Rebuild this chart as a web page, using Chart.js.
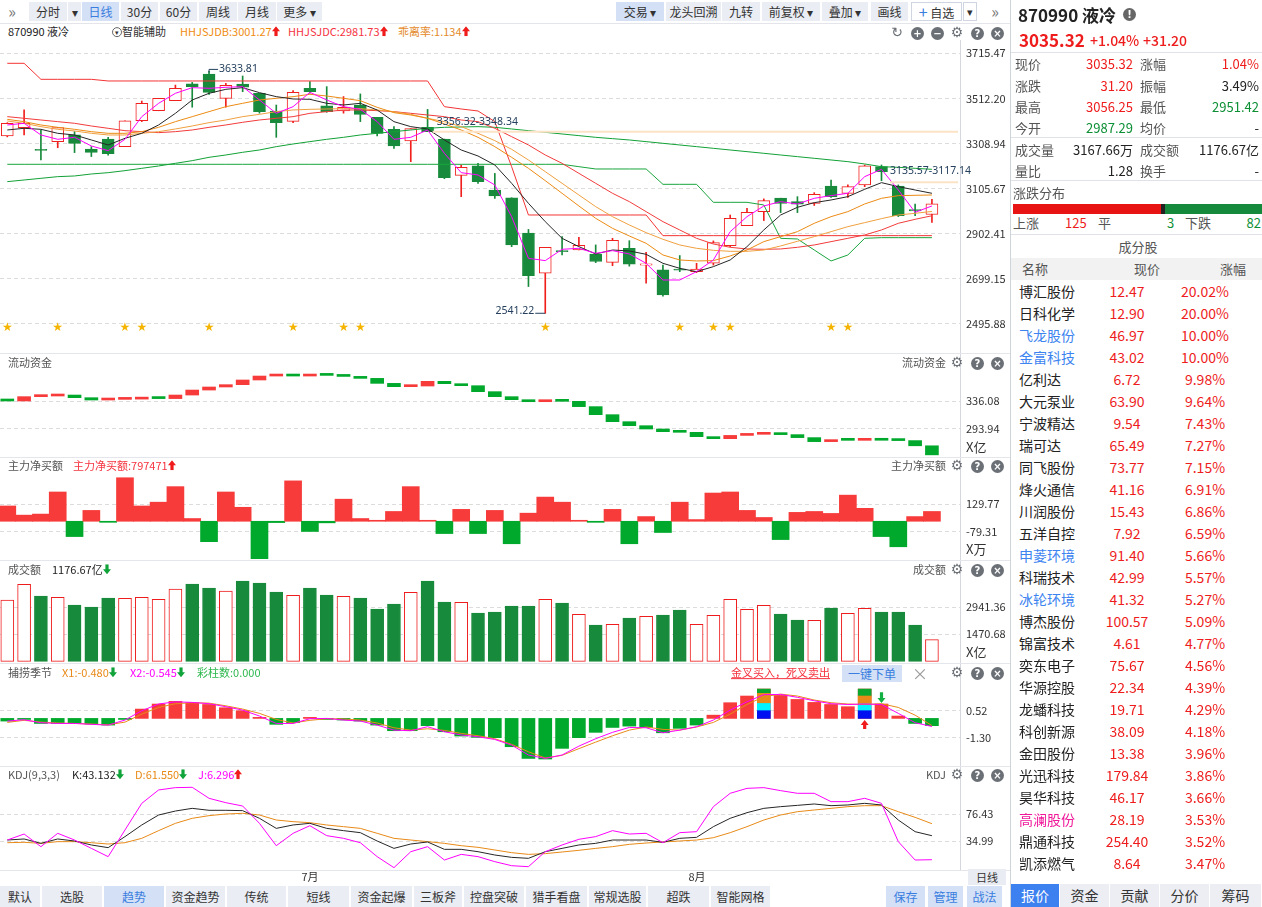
<!DOCTYPE html>
<html>
<head>
<meta charset="utf-8">
<title>870990 液冷</title>
<script src="https://cdn.jsdelivr.net/npm/chart.js@4.4.1/dist/chart.umd.min.js"></script>
<script>
// ---- values (56 daily sessions) ----
const opens  = [3342,3380,3281,3316,3347,3283,3328,3294,3411,3456,3502,3578,3622,3512,3577,3535,3455,3408,3557,3478,3455,3482,3426,3372,3320,3381,3328,3164,3207,3098,3063,2904,2722,2824,2827,2809,2771,2835,2759,2737,2738,2729,2767,2847,2937,3000,3061,3046,3038,3116,3083,3121,3204,3116,3010,2987.29];
const highs  = [3402,3460,3369,3380,3362,3294,3336,3410,3500,3512,3572,3584,3633.81,3580,3613,3535,3482,3547,3588,3565,3520,3532,3426,3384,3375,3462,3328,3211,3219,3173,3063,2920,2839,2888,2884,2850,2880,2869,2817,2759,2802,2767,2868,2985,3015,3058,3061,3068,3086,3143,3121,3211,3211,3121,3034,3056.25];
const lows   = [3338,3347,3234,3289,3267,3249,3255,3294,3407,3456,3502,3472,3530,3472,3542,3445,3336,3402,3535,3449,3445,3407,3342,3286,3226,3362,3149,3068,3128,3060,2842,2662,2541.22,2805,2827,2770,2756,2754,2677,2619,2729,2725,2759,2842,2937,2960,2996,2996,3028,3064,3065,3113,3140,2978,2982,2951.42];
const closes = [3399,3399,3277,3380,3309,3268,3262,3410,3490,3512,3557,3565,3539,3571,3562,3452,3402,3539,3542,3452,3472,3440,3354,3297,3375,3362,3154,3200,3136,3071,2850,2711,2839,2820,2848,2775,2871,2763,2765,2624,2736,2741,2860,2970,2997,3050,3038,3034,3079,3068,3113,3207,3181,2982,3004,3035.32];

// overlay lines on the K chart
const maFast  = [3391.8,3399.3,3346.6,3327.0,3336.0,3296.9,3275.8,3327.0,3429.4,3489.6,3534.8,3560.4,3557.4,3561.9,3564.9,3504.7,3444.4,3474.5,3539.3,3504.7,3474.5,3462.5,3406.8,3327.0,3336.0,3369.2,3263.8,3176.4,3165.9,3120.7,2977.7,2789.5,2779.0,2830.2,2834.7,2812.1,2824.1,2809.1,2766.9,2691.6,2691.6,2729.3,2782.0,2909.9,2977.7,3025.9,3045.5,3034.9,3060.5,3072.6,3083.1,3158.4,3191.5,3098.1,2997.3,3025.9];
const maBlack = [3369.2,3376.7,3372.2,3354.1,3346.6,3324.0,3301.4,3331.5,3354.1,3391.8,3444.4,3504.7,3534.8,3552.8,3560.4,3537.8,3519.7,3509.2,3507.7,3489.6,3482.1,3489.6,3459.5,3406.8,3384.2,3373.7,3324.0,3278.8,3251.7,3211.1,3128.3,3037.9,2955.1,2879.8,2842.2,2809.1,2827.1,2822.6,2807.6,2766.9,2744.3,2729.3,2751.9,2782.0,2842.2,2917.5,2985.2,3019.9,3040.9,3053.0,3068.0,3101.2,3131.3,3113.2,3098.1,3083.1];
const maOrange = [3417.3,3406.8,3391.8,3381.2,3372.2,3361.6,3354.1,3354.1,3361.6,3381.2,3406.8,3429.4,3452.0,3474.5,3489.6,3504.7,3512.2,3519.7,3530.3,3522.7,3512.2,3501.6,3471.5,3447.4,3436.9,3421.9,3396.3,3369.2,3336.0,3293.9,3245.7,3196.0,3140.3,3083.1,3025.9,2970.2,2925.0,2890.4,2857.3,2804.6,2782.0,2777.5,2779.0,2800.1,2827.1,2864.8,2887.4,2909.9,2947.6,2977.7,3000.3,3034.9,3060.5,3072.6,3074.1,3075.6];
const jdb = [3409.8,3399.3,3384.2,3372.2,3364.7,3354.1,3346.6,3346.6,3354.1,3361.6,3373.7,3387.2,3402.3,3414.3,3429.4,3439.9,3452.0,3459.5,3462.5,3464.0,3465.5,3465.5,3459.5,3452.0,3439.9,3421.9,3406.8,3384.2,3354.1,3321.0,3281.9,3233.7,3181.0,3128.3,3075.6,3022.9,2977.7,2940.1,2905.5,2875.4,2849.7,2834.7,2825.6,2821.1,2821.1,2827.1,2845.2,2866.3,2887.4,2909.9,2932.5,2950.6,2968.7,2985.2,2992.8,3001.27];
const jdc = [3429.4,3421.9,3414.3,3406.8,3399.3,3387.2,3376.7,3366.1,3361.6,3357.1,3361.6,3369.2,3381.2,3391.8,3403.8,3414.3,3421.9,3429.4,3444.4,3452.0,3459.5,3459.5,3456.5,3452.0,3444.4,3436.9,3429.4,3414.3,3406.8,3376.7,3339.0,3301.4,3256.2,3218.6,3173.4,3128.3,3083.1,3045.5,3000.3,2955.1,2917.5,2879.8,2854.2,2839.2,2831.7,2830.2,2831.7,2839.2,2849.7,2864.8,2879.8,2894.9,2917.5,2947.6,2965.7,2981.73];
const maLong = [3135.8,3143.3,3150.8,3158.4,3161.4,3170.4,3176.4,3185.5,3196.0,3206.6,3218.6,3230.6,3245.7,3256.2,3268.3,3278.8,3293.9,3305.9,3316.5,3327.0,3336.0,3346.6,3354.1,3361.6,3369.2,3376.7,3381.2,3382.7,3384.2,3381.2,3373.7,3366.1,3358.6,3351.1,3343.6,3336.0,3330.0,3324.0,3316.5,3308.9,3301.4,3293.9,3286.3,3278.8,3271.3,3263.8,3256.2,3248.7,3241.2,3233.7,3226.1,3215.6,3203.5,3200.5,3196.0,3191.5];
const bandUp = [3670.3,3670.3,3598.0,3598.0,3598.0,3598.0,3590.5,3590.5,3590.5,3590.5,3590.5,3590.5,3590.5,3590.5,3590.5,3590.5,3590.5,3590.5,3590.5,3590.5,3590.5,3590.5,3590.5,3590.5,3590.5,3590.5,3474.5,3464.0,3455.0,3406.8,3203.5,2985.2,2985.2,2985.2,2985.2,2985.2,2985.2,2985.2,2985.2,2891.9,2891.9,2891.9,2891.9,2891.9,2891.9,2891.9,2891.9,2891.9,2891.9,2891.9,2891.9,2891.9,2891.9,2891.9,2891.9,2891.9];
const bandLow = [3214.1,3214.1,3214.1,3214.1,3214.1,3214.1,3214.1,3214.1,3214.1,3214.1,3214.1,3214.1,3214.1,3214.1,3214.1,3214.1,3214.1,3214.1,3214.1,3214.1,3214.1,3214.1,3214.1,3214.1,3214.1,3214.1,3214.1,3214.1,3214.1,3214.1,3214.1,3214.1,3214.1,3214.1,3203.5,3193.0,3193.0,3193.0,3193.0,3123.7,3123.7,3123.7,3042.4,3042.4,3042.4,3030.4,2879.8,2876.8,2827.1,2777.5,2804.6,2879.8,2882.8,2882.8,2882.8,2882.8];
const starDays = [0, 3, 7, 8, 12, 17, 20, 21, 32, 40, 42, 43, 49, 50];

// sub panels
const flowStart = 337.0;
const flow = [336.1,342.8,343.8,345.3,341.2,337.6,338.6,339.0,340.2,339.8,345.3,353.0,357.7,361.3,368.5,374.6,376.2,374.6,376.2,375.6,374.0,371.0,363.3,358.2,359.2,366.4,362.8,359.7,350.5,342.8,338.1,335.0,336.1,335.6,327.4,315.0,304.2,298.0,292.9,288.8,287.8,281.1,278.0,283.0,284.7,286.2,284.2,279.6,273.4,276.0,275.4,276.0,275.5,275.0,267.0,253.0];
const netBuy = [117,47,55,224,-117,83,-8,333,117,146,265,21,-156,224,107,-286,-10,309,-78,-12,169,21,5,75,265,5,-94,91,-94,83,-172,62,185,146,5,-8,91,-172,36,-86,146,13,216,224,83,29,-140,68,75,60,200,99,-117,-195,36,75];
const amount = [3341,4194,3559,3486,3068,2959,3450,3431,3486,3377,3940,4212,3994,3831,4376,4267,3776,3595,3994,3613,3540,3450,2850,3123,3758,4376,3232,3214,2633,2687,3014,3014,3377,3177,2560,1979,2015,2360,2451,2524,2796,2015,2505,3377,2832,3050,2578,2251,2233,2905,2614,2887,2687,2687,1979,1176.67];
const colorBars = [-0.18,-0.07,-0.34,-0.34,-0.34,-0.38,-0.45,-0.07,0.63,0.97,1.15,1.06,0.94,0.72,0.52,0.07,-0.40,-0.29,0.07,-0.07,-0.11,-0.18,-0.45,-0.83,-0.83,-0.49,-0.90,-1.19,-1.28,-1.30,-1.91,-2.70,-2.74,-2.02,-1.30,-0.94,-0.61,-0.52,-0.61,-0.97,-0.67,-0.45,0.22,1.06,1.51,1.98,1.55,1.28,1.08,0.94,0.79,1.98,0.97,0.16,-0.34,-0.49];
const x1 = [-0.27,-0.13,-0.25,-0.31,-0.34,-0.38,-0.43,-0.25,0.29,0.74,0.99,1.06,1.03,0.85,0.63,0.34,-0.07,-0.31,-0.13,-0.02,-0.04,-0.11,-0.31,-0.63,-0.79,-0.70,-0.81,-1.01,-1.17,-1.37,-1.75,-2.25,-2.67,-2.49,-2.04,-1.60,-1.17,-0.79,-0.58,-0.74,-0.79,-0.58,-0.27,0.29,0.94,1.46,1.64,1.51,1.24,1.06,0.97,0.94,0.99,0.74,0.22,-0.48];
const x2 = [-0.18,-0.09,-0.29,-0.34,-0.34,-0.40,-0.45,-0.11,0.52,0.97,1.12,1.08,0.99,0.79,0.56,0.16,-0.34,-0.34,-0.02,0,-0.11,-0.18,-0.45,-0.79,-0.83,-0.56,-0.90,-1.12,-1.24,-1.42,-1.80,-2.47,-2.70,-2.47,-1.87,-1.37,-0.94,-0.61,-0.63,-0.97,-0.79,-0.56,-0.11,0.56,1.12,1.60,1.62,1.42,1.19,0.99,0.94,0.97,0.94,0.34,-0.29,-0.545];
const signalDays = [45, 51];
const signalCuts = [[0.52, 1.01, 1.69, 1.98], [0.52, 0.97, 1.51, 1.98]];
const kdjK = [36.5,38.1,31.4,38.1,35.0,28.9,24.8,41.7,59.6,74.9,81.0,85.1,82.1,82.1,81.6,69.8,54.4,59.6,62.1,54.4,50.9,47.8,35.0,23.7,30.4,33.5,22.2,22.2,18.6,13.5,9.9,8.4,18.6,23.7,28.9,31.4,36.5,36.5,36.5,33.0,39.1,40.6,57.0,69.8,78.5,85.1,87.7,89.7,91.8,89.2,90.3,92.8,90.3,67.2,49.3,43.132];
const kdjD = [32.4,33.0,31.4,34.0,34.0,32.4,30.4,32.4,39.1,50.9,62.1,69.8,73.9,76.4,77.5,74.9,67.2,64.7,63.1,59.6,57.0,54.4,46.8,39.1,36.5,34.0,31.4,27.8,25.3,21.2,17.1,14.5,15.6,18.1,20.7,23.7,26.3,29.9,31.9,33.5,35.0,36.5,40.1,47.8,57.0,67.2,74.9,80.0,82.6,85.1,87.7,89.2,89.2,80.0,71.3,61.55];
const kdjJ = [36.5,45.7,26.3,46.8,36.5,23.7,11.0,51.9,92.8,113.3,116.9,117.4,100.5,93.8,88.7,62.1,27.8,46.8,58.5,43.2,39.1,32.4,11.0,-5.9,18.6,26.3,5.8,14.5,11.0,3.3,-2.9,-4.4,18.6,28.9,37.6,41.7,50.9,45.7,46.8,32.4,47.8,49.3,87.7,108.2,115.8,116.9,112.3,108.2,108.2,95.4,95.4,100.5,92.8,34.0,5.8,6.296];

// axis tick labels
const mainTicks = [3715.47, 3512.20, 3308.94, 3105.67, 2902.41, 2699.15, 2495.88];
const flowTicks = [336.08, 293.94];
const netTicks = [129.77, -79.31];
const amountTicks = [2941.36, 1470.68];
const seasonTicks = [0.52, -1.30];
const kdjTicks = [76.43, 34.99];

// constituent list
const stockNames = ['博汇股份','日科化学','飞龙股份','金富科技','亿利达','大元泵业','宁波精达','瑞可达','同飞股份','烽火通信','川润股份','五洋自控','申菱环境','科瑞技术','冰轮环境','博杰股份','锦富技术','奕东电子','华源控股','龙蟠科技','科创新源','金田股份','光迅科技','昊华科技','高澜股份','鼎通科技','凯添燃气'];
const stockPrices = [12.47,12.90,46.97,43.02,6.72,63.90,9.54,65.49,73.77,41.16,15.43,7.92,91.40,42.99,41.32,100.57,4.61,75.67,22.34,19.71,38.09,13.38,179.84,46.17,28.19,254.40,8.64];
const stockPcts = [20.02,20.00,10.00,10.00,9.98,9.64,7.43,7.27,7.15,6.91,6.86,6.59,5.66,5.57,5.27,5.09,4.77,4.56,4.39,4.29,4.18,3.96,3.86,3.66,3.53,3.52,3.47];
</script>
<style>
  * { box-sizing: border-box; }
  body { margin: 0; width: 1262px; height: 907px; overflow: hidden; background: #fff; position: relative;
         font-family: "Noto Sans CJK SC", "Noto Sans", sans-serif; color: #222; }
  canvas { position: absolute; left: 0; }
  .tx { position: absolute; white-space: nowrap; line-height: 1.25; z-index: 5; }
  .box { position: absolute; text-align: center; white-space: nowrap; z-index: 5; }
  .ln { position: absolute; z-index: 4; }
  .ci { position: absolute; width: 13px; height: 13px; border-radius: 50%; background: #6b6f76; color: #fff;
        font: bold 10px/13px "DejaVu Sans", sans-serif; text-align: center; z-index: 5; }
</style>
</head>
<body>
<canvas id="cMain" width="1010" height="313" style="top:40px"></canvas>
<canvas id="cFlow" width="1010" height="103" style="top:354px"></canvas>
<canvas id="cNet" width="1010" height="104" style="top:457px"></canvas>
<canvas id="cVol" width="1010" height="103" style="top:561px"></canvas>
<canvas id="cSeason" width="1010" height="102" style="top:664px"></canvas>
<canvas id="cKdj" width="1010" height="104" style="top:766px"></canvas>

<script>
const RED = '#f0201f';
const GREEN = '#188a3c';
const BRIGHT_GREEN = '#00a82b';
const BAR_RED = '#f73b3b';
const X_MIN = -0.434, X_MAX = 56.67;

const UP_ARROW = '<svg width="8" height="10" viewBox="0 0 8 10"><path d="M4 0L8 5H5.6V10H2.4V5H0Z" fill="#f01c1c"/></svg>';
const DOWN_ARROW = '<svg width="8" height="10" viewBox="0 0 8 10"><path d="M4 10L8 5H5.6V0H2.4V5H0Z" fill="#0fa33a"/></svg>';

document.addEventListener("DOMContentLoaded", () => {
  Chart.defaults.font.family = '"Noto Sans CJK SC", "Noto Sans", sans-serif';
  drawMain();
  drawFlow();
  drawNetBuy();
  drawAmount();
  drawSeason();
  drawKdj();
  buildChrome();
  buildQuotePanel();
});

// shared look of every panel: hidden linear x, right-hand value axis
function panelOptions(yMin, yMax, ticks) {
  return {
    responsive: false,
    animation: false,
    events: [],
    layout: { padding: 0 },
    plugins: { legend: { display: false }, tooltip: { enabled: false } },
    scales: {
      x: { type: 'linear', min: X_MIN, max: X_MAX, offset: false, display: false },
      y: {
        position: 'right', min: yMin, max: yMax,
        afterFit: s => { s.width = 50; s.paddingTop = 0; s.paddingBottom = 0; },
        afterBuildTicks: s => { s.ticks = ticks.map(v => ({ value: v })); },
        ticks: { autoSkip: false, padding: 6, color: '#333', font: { size: 11 }, callback: v => v.toFixed(2) },
        grid: { color: '#dcdcdc', drawTicks: false },
        border: { display: true, color: '#d4d7dd', dash: [4, 3] }
      }
    }
  };
}

function points(arr) {
  return arr.map((v, i) => ({ x: i, y: v }));
}

function line(data, color, order) {
  return { type: 'line', data: points(data), borderColor: color, borderWidth: 1,
           pointRadius: 0, tension: 0, order: order || 0 };
}

const isUp = closes.map((c, i) => c >= opens[i]);

function drawMain() {
  const marks = {
    id: 'marks',
    afterDatasetsDraw(chart) {
      const { ctx, scales: { x, y } } = chart;
      ctx.save();
      // drawing-tool levels
      ctx.strokeStyle = '#fde3c6';
      ctx.lineWidth = 2;
      [[25.3, 3361.6], [52.5, 3132.8]].forEach(([from, lvl]) => {
        ctx.beginPath();
        ctx.moveTo(x.getPixelForValue(from), y.getPixelForValue(lvl));
        ctx.lineTo(chart.chartArea.right - 2, y.getPixelForValue(lvl));
        ctx.stroke();
      });
      ctx.font = '10.5px "Noto Sans", sans-serif';
      ctx.fillStyle = '#24405e';
      ctx.textBaseline = 'middle';
      ctx.fillText('3356.32-3348.34', x.getPixelForValue(25.55), y.getPixelForValue(3405));
      ctx.fillText('3135.57-3117.14', x.getPixelForValue(52.5), y.getPixelForValue(3184));
      // high / low tags
      const hx = x.getPixelForValue(12), hy = y.getPixelForValue(highs[12]) - 2;
      ctx.strokeStyle = '#24405e';
      ctx.lineWidth = 1;
      ctx.beginPath(); ctx.moveTo(hx, hy + 3); ctx.lineTo(hx, hy); ctx.lineTo(hx + 9, hy); ctx.stroke();
      ctx.fillText(highs[12].toFixed(2), hx + 10, hy);
      const lx = x.getPixelForValue(32), ly = y.getPixelForValue(lows[32]);
      ctx.beginPath(); ctx.moveTo(lx - 10, ly); ctx.lineTo(lx, ly); ctx.stroke();
      ctx.textAlign = 'right';
      ctx.fillText(lows[32].toFixed(2), lx - 11, ly - 2);
      // stars
      ctx.textAlign = 'center';
      ctx.font = '12px "DejaVu Sans", sans-serif';
      ctx.fillStyle = '#f5b400';
      starDays.forEach(d => ctx.fillText('★', x.getPixelForValue(d), y.getPixelForValue(2474.6)));
      ctx.restore();
    }
  };

  new Chart(document.getElementById('cMain'), {
    type: 'bar',
    data: {
      datasets: [
        line(maFast, '#ff00ff'),
        line(maBlack, '#262626'),
        line(maOrange, '#ec8b14'),
        line(jdb, '#f0a040'),
        line(jdc, '#f23b3b'),
        line(maLong, '#12a136'),
        line(bandUp, '#f43434'),
        line(bandLow, '#1aa53d'),
        {
          data: closes.map((c, i) => ({ x: i, y: [opens[i], c] })),
          backgroundColor: isUp.map(u => u ? '#ffffff' : GREEN),
          borderColor: isUp.map(u => u ? RED : GREEN),
          borderWidth: 1, borderSkipped: false, barThickness: 12, minBarLength: 1,
          grouped: false, order: 1
        },
        {
          data: highs.map((h, i) => ({ x: i, y: [lows[i], h] })),
          backgroundColor: isUp.map(u => u ? RED : GREEN),
          barThickness: 1, grouped: false, order: 2
        }
      ]
    },
    options: panelOptions(2361.8, 3775.6, mainTicks),
    plugins: [marks]
  });
}

function drawFlow() {
  const prev = flow.map((v, i) => i === 0 ? flowStart : flow[i - 1]);
  new Chart(document.getElementById('cFlow'), {
    type: 'bar',
    data: {
      datasets: [{
        data: flow.map((v, i) => ({ x: i, y: [prev[i], v] })),
        backgroundColor: flow.map((v, i) => v > prev[i] ? BAR_RED : BRIGHT_GREEN),
        barThickness: 13, minBarLength: 2, grouped: false
      }]
    },
    options: panelOptions(249.7, 408.6, flowTicks)
  });
}

function drawNetBuy() {
  new Chart(document.getElementById('cNet'), {
    type: 'bar',
    data: {
      datasets: [{
        data: points(netBuy),
        backgroundColor: netBuy.map(v => v >= 0 ? BAR_RED : BRIGHT_GREEN),
        barThickness: 17, minBarLength: 1, grouped: false
      }]
    },
    options: panelOptions(-303.9, 491.6, netTicks)
  });
}

function drawAmount() {
  new Chart(document.getElementById('cVol'), {
    type: 'bar',
    data: {
      datasets: [{
        data: points(amount),
        backgroundColor: isUp.map(u => u ? '#ffffff' : GREEN),
        borderColor: isUp.map(u => u ? '#ee1c1c' : GREEN),
        borderWidth: 1, borderSkipped: false, barThickness: 13, grouped: false
      }]
    },
    options: panelOptions(-147, 5463, amountTicks)
  });
}

function drawSeason() {
  // the stacked signal columns on the two golden-cross days
  const segColors = ['#0010f0', '#00f4ff', '#e88a18', '#0ca52e'];
  const segSets = segColors.map((col, k) => ({
    data: signalDays.map((d, j) => ({ x: d, y: [k === 0 ? 0 : signalCuts[j][k - 1], signalCuts[j][k]] })),
    backgroundColor: col, barThickness: 13, grouped: false, order: 1
  }));
  const arrows = {
    id: 'arrows',
    afterDatasetsDraw(chart) {
      const { ctx, scales: { x, y } } = chart;
      const arrow = (i, top, bottom, up, color) => {
        const cx = x.getPixelForValue(i), y0 = y.getPixelForValue(top), y1 = y.getPixelForValue(bottom);
        const tip = up ? y0 : y1, tail = up ? y1 : y0, head = up ? tip + 5 : tip - 5;
        ctx.fillStyle = color;
        ctx.beginPath();
        ctx.moveTo(cx, tip); ctx.lineTo(cx + 4, head); ctx.lineTo(cx + 1.6, head);
        ctx.lineTo(cx + 1.6, tail); ctx.lineTo(cx - 1.6, tail); ctx.lineTo(cx - 1.6, head);
        ctx.lineTo(cx - 4, head); ctx.closePath(); ctx.fill();
      };
      ctx.save();
      arrow(51, -0.10, -0.72, true, '#f01c1c');
      arrow(52, 1.77, 1.04, false, '#12b043');
      ctx.restore();
    }
  };
  new Chart(document.getElementById('cSeason'), {
    type: 'bar',
    data: {
      datasets: [
        line(x2, '#ff00ff'),
        line(x1, '#e88a18'),
        ...segSets,
        {
          data: points(colorBars),
          backgroundColor: colorBars.map(v => v >= 0 ? BAR_RED : BRIGHT_GREEN),
          barThickness: 13, minBarLength: 1, grouped: false, order: 2
        }
      ]
    },
    options: panelOptions(-3.21, 3.67, seasonTicks),
    plugins: [arrows]
  });
}

function drawKdj() {
  new Chart(document.getElementById('cKdj'), {
    type: 'line',
    data: {
      datasets: [line(kdjJ, '#ff00ff'), line(kdjK, '#262626'), line(kdjD, '#e88a18')]
    },
    options: panelOptions(-9.5, 150.1, kdjTicks)
  });
}

// ---------- page furniture ----------
function put(html, x, y, size, color, align, extra) {
  const d = document.createElement('div');
  d.className = 'tx';
  d.innerHTML = html;
  const tf = align === 'r' ? 'translate(-100%,-50%)' : align === 'c' ? 'translate(-50%,-50%)' : 'translateY(-50%)';
  d.style.cssText = `left:${x}px;top:${y}px;font-size:${size}px;color:${color};transform:${tf};` + (extra || '');
  document.body.appendChild(d);
  return d;
}

function box(text, x, y, w, h, bg, color, size, extra) {
  const d = document.createElement('div');
  d.className = 'box';
  d.innerHTML = text;
  d.style.cssText = `left:${x}px;top:${y}px;width:${w}px;height:${h}px;line-height:${h}px;background:${bg};color:${color};font-size:${size}px;` + (extra || '');
  document.body.appendChild(d);
  return d;
}

function rule(x, y, w, h, color) {
  const d = document.createElement('div');
  d.className = 'ln';
  d.style.cssText = `left:${x}px;top:${y}px;width:${w}px;height:${h}px;background:${color};`;
  document.body.appendChild(d);
}

function panelIcons(y) {
  put('⚙', 957, y, 14, '#6b6f76', 'c', 'font-family:"DejaVu Sans"');
  const q = document.createElement('div'); q.className = 'ci'; q.textContent = '?';
  q.style.left = '971px'; q.style.top = (y - 6.5) + 'px'; document.body.appendChild(q);
  const c = document.createElement('div'); c.className = 'ci'; c.textContent = '×';
  c.style.left = '991px'; c.style.top = (y - 6.5) + 'px'; document.body.appendChild(c);
}

function buildChrome() {
  // top toolbar
  put('»', 12, 11, 16, '#777', 'c');
  const left = [['分时', 29, 38], ['▾', 68, 13], ['日线', 82, 37, 1], ['30分', 121, 37], ['60分', 160, 37],
                ['周线', 199, 38], ['月线', 238, 38], ['更多 ▾', 277, 45]];
  left.forEach(b => box(b[0], b[1], 2, b[2], 19, b[3] ? '#d4e0f5' : '#eaedf3', b[3] ? '#3a7ee0' : '#333', 12));
  const right = [['交易 ▾', 616, 48, 1], ['龙头回溯', 666, 55], ['九转', 722, 38], ['前复权 ▾', 762, 58],
                 ['叠加 ▾', 822, 46], ['画线', 871, 37]];
  right.forEach(b => box(b[0], b[1], 2, b[2], 19, b[3] ? '#d4e0f5' : '#eaedf3', '#333', 12));
  box('<span style="color:#3a7ee0;font-size:16px">+</span> 自选', 911, 2, 51, 19, '#fff', '#333', 12, 'border:1px solid #cfd6e2;line-height:17px');
  box('▾', 963, 2, 14, 19, '#fff', '#333', 11, 'border:1px solid #cfd6e2;line-height:17px');
  put('»', 995, 11, 16, '#777', 'c');
  rule(0, 23, 1010, 1, '#e3e5ea');

  // K chart legend row
  put('870990 液冷', 8, 32, 11, '#222');
  put('<span style="display:inline-block;width:10px;height:10px;border:1px solid #666;border-radius:50%;font-size:7px;line-height:8px;text-align:center;vertical-align:1px">▾</span>智能辅助', 112, 32, 11, '#333');
  put('HHJSJDB:3001.27' + UP_ARROW, 180, 32, 11, '#f08c10');
  put('HHJSJDC:2981.73' + UP_ARROW, 288, 32, 11, '#f5333f');
  put('乖离率:1.134' + UP_ARROW, 398, 32, 11, '#e48a2a');
  put('↻', 897, 33, 14, '#6b6f76', 'c', 'font-family:"DejaVu Sans"');
  [['+', 911], ['−', 931]].forEach(([t, xx]) => {
    const c = document.createElement('div'); c.className = 'ci'; c.textContent = t;
    c.style.left = xx + 'px'; c.style.top = '26.5px'; document.body.appendChild(c);
  });
  panelIcons(33);

  // panel separators and headers
  [353, 457, 560, 663, 766, 870].forEach(y => rule(0, y, 1010, 1, '#e4e6eb'));

  put('流动资金', 8, 363, 11, '#555');
  put('流动资金', 946, 363, 11, '#555', 'r');
  panelIcons(363);
  put('X亿', 966, 447, 13, '#333');

  put('主力净买额', 8, 466, 11, '#555');
  put('主力净买额:797471' + UP_ARROW, 73, 466, 11, '#f5333f');
  put('主力净买额', 946, 466, 11, '#555', 'r');
  panelIcons(466);
  put('X万', 966, 549, 13, '#333');

  put('成交额', 8, 570, 11, '#555');
  put('1176.67亿' + DOWN_ARROW, 52, 570, 11, '#222');
  put('成交额', 946, 570, 11, '#555', 'r');
  panelIcons(570);
  put('X亿', 966, 652, 13, '#333');

  put('捕捞季节', 8, 673, 11, '#555');
  put('X1:-0.480' + DOWN_ARROW, 62, 673, 11, '#e88a18');
  put('X2:-0.545' + DOWN_ARROW, 130, 673, 11, '#ff00ff');
  put('彩柱数:0.000', 197, 673, 11, '#2db84d');
  put('金叉买入，死叉卖出', 731, 673, 11, '#f5333f', '', 'text-decoration:underline');
  box('一键下单', 842, 665, 60, 17, '#d4e0f5', '#3a7ee0', 12);
  put('×', 920, 673, 16, '#999', 'c');
  panelIcons(673);

  put('KDJ(9,3,3)', 8, 775, 11, '#555');
  put('K:43.132' + DOWN_ARROW, 72, 775, 11, '#222');
  put('D:61.550' + DOWN_ARROW, 135, 775, 11, '#e88a18');
  put('J:6.296' + UP_ARROW, 198, 775, 11, '#ff00ff');
  put('KDJ', 946, 775, 11, '#555', 'r');
  panelIcons(775);

  // month labels and period tag
  put('7月', 310, 877, 11, '#333', 'c');
  put('8月', 697, 877, 11, '#333', 'c');
  box('日线', 968, 869, 38, 16, '#e9ecf2', '#333', 11);

  // strategy tabs
  const tabs = [['默认', 0, 40], ['选股', 42, 60], ['趋势', 104, 60, 1], ['资金趋势', 166, 59], ['传统', 227, 59],
                ['短线', 288, 61], ['资金起爆', 351, 61], ['三板斧', 414, 48], ['控盘突破', 464, 60], ['猎手看盘', 526, 61],
                ['常规选股', 589, 57], ['超跌', 648, 61], ['智能网格', 711, 59]];
  tabs.forEach(t => box(t[0], t[1], 886, t[2], 21, t[3] ? '#d4e0f5' : '#eaedf3', t[3] ? '#3a7ee0' : '#333', 12));
  [['保存', 886, 39], ['管理', 928, 35], ['战法', 967, 35]].forEach(t => box(t[0], t[1], 886, t[2], 21, '#d4e0f5', '#3a7ee0', 12));
}

function buildQuotePanel() {
  rule(1010, 0, 1, 907, '#cfd3da');
  put('870990 液冷', 1018, 15, 17, '#222', '', 'font-weight:bold');
  const bang = document.createElement('div'); bang.className = 'ci'; bang.textContent = '!';
  bang.style.cssText += 'left:1123px;top:8px;background:#666';
  document.body.appendChild(bang);
  put('3035.32', 1019, 40, 17, '#ee1c1c', '', 'font-weight:bold');
  put('+1.04%', 1090, 41, 14, '#ee1c1c', '', 'font-weight:500');
  put('+31.20', 1143, 41, 14, '#ee1c1c', '', 'font-weight:500');
  rule(1011, 52, 251, 1, '#dfe2e8');

  const rows = [
    [64, '现价', '3035.32', '#ee1c1c', '涨幅', '1.04%', '#ee1c1c'],
    [86, '涨跌', '31.20', '#ee1c1c', '振幅', '3.49%', '#222'],
    [107, '最高', '3056.25', '#ee1c1c', '最低', '2951.42', '#0d8f36'],
    [128, '今开', '2987.29', '#0d8f36', '均价', '-', '#222'],
    [150, '成交量', '3167.66万', '#222', '成交额', '1176.67亿', '#222'],
    [171, '量比', '1.28', '#222', '换手', '-', '#222']
  ];
  rows.forEach(r => {
    put(r[1], 1015, r[0], 13, '#555');
    put(r[2], 1133, r[0], 13, r[3], 'r');
    put(r[4], 1140, r[0], 13, '#555');
    put(r[5], 1259, r[0], 13, r[6], 'r');
  });
  rule(1011, 137, 251, 1, '#dfe2e8');
  rule(1011, 180, 251, 1, '#dfe2e8');
  put('涨跌分布', 1013, 193, 13, '#555');
  rule(1013, 204, 148, 10, '#e81414');
  rule(1161, 204, 4, 10, '#222');
  rule(1165, 204, 97, 10, '#168a3c');
  put('上涨', 1013, 223, 13, '#555');
  put('125', 1065, 223, 13, '#ee1c1c');
  put('平', 1098, 223, 13, '#555');
  put('3', 1167, 223, 13, '#0d8f36');
  put('下跌', 1185, 223, 13, '#555');
  put('82', 1261, 223, 13, '#0d8f36', 'r');
  rule(1011, 234, 251, 1, '#dfe2e8');
  put('成分股', 1138, 247, 13, '#555', 'c');
  rule(1011, 258, 251, 22, '#f2f2f2');
  put('名称', 1022, 269, 13, '#555');
  put('现价', 1147, 269, 13, '#555', 'c');
  put('涨幅', 1233, 269, 13, '#555', 'c');

  stockNames.forEach((name, i) => {
    const y = 292 + i * 22;
    let col = '#222';
    if ([2, 3, 12, 14].includes(i)) col = '#3d84f0';
    if (i === 24) col = '#f0189a';
    put(name, 1019, y, 14, col);
    put(stockPrices[i].toFixed(2), 1127, y, 14, '#ee1c1c', 'c');
    put(stockPcts[i].toFixed(2) + '%', 1205, y, 14, '#ee1c1c', 'c');
  });

  const tabs = [['报价', 1011, 49, 1], ['资金', 1060, 50], ['贡献', 1110, 50], ['分价', 1160, 50], ['筹码', 1210, 52]];
  tabs.forEach(t => box(t[0], t[1], 884, t[2] - 1, 23, t[3] ? '#3d80f0' : '#eceef4', t[3] ? '#fff' : '#333', 14));
}
</script>
</body>
</html>
